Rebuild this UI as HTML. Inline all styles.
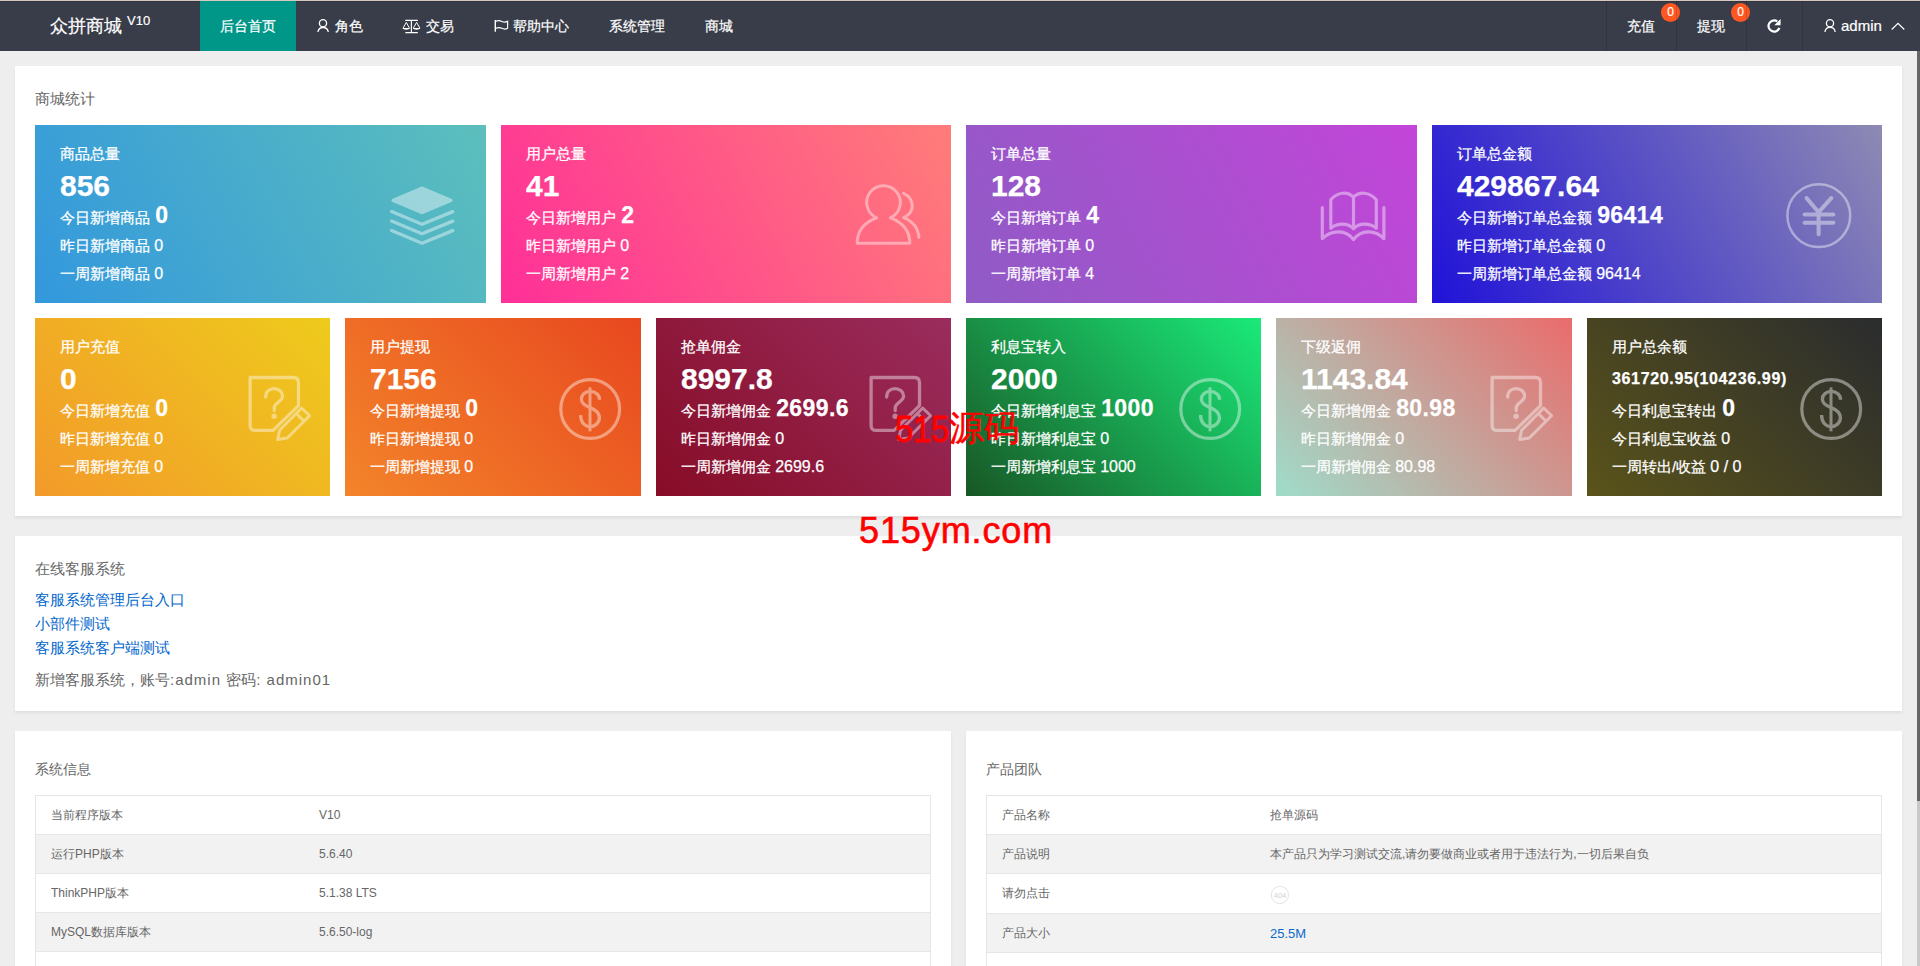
<!DOCTYPE html>
<html><head><meta charset="utf-8"><title>众拼商城</title>
<style>
*{margin:0;padding:0;box-sizing:border-box}
html,body{width:1920px;height:966px;overflow:hidden}
body{background:#eeeeee;font-family:"Liberation Sans",sans-serif;position:relative;color:#666}
.topline{position:absolute;left:0;top:0;width:1920px;height:1px;background:#d8c8c0}
.hdr{position:absolute;left:0;top:1px;width:1920px;height:50px;background:#393d49;color:#fff;box-shadow:inset 0 1px 0 #30343f;-webkit-text-stroke:.2px #fff}
.hdr .logo{position:absolute;left:50px;top:0;line-height:50px;font-size:18px;color:#fff}
.hdr .logo sup{font-size:13px;position:absolute;left:77px;top:-5px;line-height:50px}
.nav{position:absolute;top:0;height:50px;line-height:50px;font-size:14px;color:#fff;white-space:nowrap}
.nav svg{position:absolute}
.act{background:#009688}
.sep{position:absolute;top:0;width:1px;height:50px;background:rgba(0,0,0,.14)}
.badge{position:absolute;width:19px;height:19px;border-radius:10px;background:#ff5722;color:#fff;font-size:12px;line-height:19px;text-align:center}
.card{position:absolute;background:#fff;box-shadow:0 2px 3px rgba(0,0,0,.07)}
.ctitle{position:absolute;left:20px;font-size:15px;color:#666;white-space:nowrap}
.sc{position:absolute;height:178px;color:#fff;overflow:hidden;-webkit-text-stroke:.25px #fff}
.sc .t{position:absolute;left:25px;white-space:nowrap}
.sc .lab{top:19px;font-size:15px;line-height:20px}
.sc .big{top:45px;font-size:30px;line-height:32px;font-weight:bold}
.sc .big.sm{font-size:16px;top:51px;line-height:20px;letter-spacing:.65px}
.sc .l2{top:80px;font-size:15px;line-height:20px}
.sc .l2 b{font-size:23px;margin-left:1px;letter-spacing:.4px}
.sc .l3{top:111px;font-size:15px;line-height:20px}
.sc .l4{top:139px;font-size:15px;line-height:20px}
.sc .d{font-size:16px}
.ico{position:absolute;opacity:.42}
.links a{position:absolute;left:20px;font-size:15px;color:#0066cc;text-decoration:none;white-space:nowrap}
.tbl{position:absolute;left:20px;border-left:1px solid #e6e6e6;border-right:1px solid #e6e6e6}
.tbl .r{height:39px;border-top:1px solid #e6e6e6;position:relative;font-size:12px;color:#666;line-height:38px}
.tbl .r.g{background:#f2f2f2}
.tbl .r span{position:absolute;white-space:nowrap}
.la{font-style:normal;letter-spacing:1px}
.wm1{position:absolute;left:895px;top:408px;font-size:35px;color:#ff0000;line-height:40px;white-space:nowrap;-webkit-text-stroke:.5px #f00}
.wm1 .dg{display:inline-block;font-size:33px;transform:translateY(1.5px) scaleY(1.13);transform-origin:0 28px;-webkit-text-stroke:.7px #f00;letter-spacing:-.4px}
.wm2{position:absolute;left:859px;top:510px;font-size:36px;color:#ff0000;line-height:42px;white-space:nowrap;letter-spacing:.9px;-webkit-text-stroke:.6px #f00}
.sb{position:absolute;left:1917px;top:51px;width:3px;height:915px;background:#c8c8c8}
.sb i{position:absolute;left:0;top:0;width:3px;height:750px;background:#666}
</style></head><body>
<div class="topline"></div>
<div class="hdr">
 <div class="logo">众拼商城<sup>V10</sup></div>
 <div class="nav act" style="left:200px;width:96px;text-align:center">后台首页</div>
 <svg style="position:absolute;left:315px;top:16px" width="16" height="18" viewBox="315 17 16 18"><circle cx="323" cy="23.3" r="3.6" fill="none" stroke="#fff" stroke-width="1.3"/><path d="M317.9 32 A5.3 5.6 0 0 1 328.3 32" fill="none" stroke="#fff" stroke-width="1.3"/></svg>
 <div class="nav" style="left:335px">角色</div>
 <svg style="position:absolute;left:401px;top:16px" width="22" height="18" viewBox="401 17 22 18"><path d="M405.3 20.4 H417.8 M411.4 20.4 V32.4 M405.3 32.6 H417.8" fill="none" stroke="#fff" stroke-width="1.2"/><path d="M403 28.2 L406.3 22.4 L409.5 28.2 M413.3 28.2 L416.6 22.4 L419.9 28.2" fill="none" stroke="#fff" stroke-width="1"/><path d="M402.6 28 H409.9 C409.6 30.3 402.9 30.3 402.6 28 Z M412.9 28 H420.2 C419.9 30.3 413.2 30.3 412.9 28 Z" fill="#fff"/></svg>
 <div class="nav" style="left:426px">交易</div>
 <svg style="position:absolute;left:492px;top:17px" width="18" height="17" viewBox="492 18 18 17"><path d="M495.3 20 V31.8" fill="none" stroke="#fff" stroke-width="1.4"/><path d="M495.8 21.3 Q498.8 19.9 501.9 21.5 Q504.9 23 507.6 21.3 V28.2 Q504.9 29.8 501.9 28.3 Q498.8 26.8 495.8 28.2" fill="none" stroke="#fff" stroke-width="1.2"/></svg>
 <div class="nav" style="left:513px">帮助中心</div>
 <div class="nav" style="left:609px">系统管理</div>
 <div class="nav" style="left:705px">商城</div>
 <div class="nav" style="left:1627px">充值</div>
 <div class="badge" style="left:1661px;top:2px">0</div>
 <div class="nav" style="left:1697px">提现</div>
 <div class="badge" style="left:1731px;top:2px">0</div>
 <div class="sep" style="left:1606px"></div>
 <div class="sep" style="left:1676px"></div>
 <div class="sep" style="left:1746px"></div>
 <div class="sep" style="left:1802px"></div>
 <svg style="position:absolute;left:1765px;top:17px" width="18" height="17" viewBox="1765 18 18 17"><path d="M1779.4 27.9 A5.6 5.6 0 1 1 1777.3 21.4" fill="none" stroke="#fff" stroke-width="2.2"/><path d="M1774.3 25.3 L1780.6 25.3 L1780.6 19 Z" fill="#fff"/></svg>
 <svg style="position:absolute;left:1822px;top:16px" width="16" height="18" viewBox="1822 17 16 18"><circle cx="1830" cy="23.2" r="3.6" fill="none" stroke="#fff" stroke-width="1.3"/><path d="M1824.9 32 A5.2 5.4 0 0 1 1835.2 32" fill="none" stroke="#fff" stroke-width="1.3"/></svg>
 <div class="nav" style="left:1841px;font-size:15px">admin</div>
 <svg style="position:absolute;left:1890px;top:20px" width="16" height="10" viewBox="1890 20 16 10"><path d="M1891.7 28.5 L1898 22.3 L1904.3 28.5" fill="none" stroke="#fff" stroke-width="1.2"/></svg>
</div>
<div class="card" style="left:15px;top:66px;width:1887px;height:450px">
<div class="ctitle" style="top:23px;line-height:20px">商城统计</div>
</div>
<div class="sc" style="left:35px;top:125px;width:451px;background:linear-gradient(62deg,#3398dd,#5cbfbc)">
<div class="t lab">商品总量</div>
<div class="t big">856</div>
<div class="t l2">今日新增商品 <b>0</b></div>
<div class="t l3">昨日新增商品 <span class="d">0</span></div>
<div class="t l4">一周新增商品 <span class="d">0</span></div>
<svg class="ico" style="left:353px;top:59px" width="70" height="62" viewBox="388 184 70 62">
<path d="M422 187.3 L450.5 199.2 Q453.2 200.4 450.5 201.6 L422 213.5 L393.5 201.6 Q390.8 200.4 393.5 199.2 Z" fill="#fff" stroke="#fff" stroke-width="1.6" stroke-linejoin="round"/>
<polyline points="391.6,211.6 422,224.3 452.8,211.6" fill="none" stroke="#fff" stroke-linecap="round" stroke-linejoin="round" stroke-width="3.3"/>
<polyline points="391.6,221.1 422,233.8 452.8,221.1" fill="none" stroke="#fff" stroke-linecap="round" stroke-linejoin="round" stroke-width="3.3"/>
<polyline points="391.6,230.6 422,243.3 452.8,230.6" fill="none" stroke="#fff" stroke-linecap="round" stroke-linejoin="round" stroke-width="3.3"/>
</svg>
</div>
<div class="sc" style="left:501px;top:125px;width:450px;background:linear-gradient(62deg,#ff2f98,#ff7d79)">
<div class="t lab">用户总量</div>
<div class="t big">41</div>
<div class="t l2">今日新增用户 <b>2</b></div>
<div class="t l3">昨日新增用户 <span class="d">0</span></div>
<div class="t l4">一周新增用户 <span class="d">2</span></div>
<svg class="ico" style="left:352px;top:57px" width="70" height="66" viewBox="853 182 70 66">
<path d="M876.6 217.8 A16.8 16.8 0 1 1 890.4 217.8 C902.5 222.3 909.8 231 909.8 243.2 L857.2 243.2 C857.2 231 864.5 222.3 876.6 217.8 Z" fill="none" stroke="#fff" stroke-linecap="round" stroke-linejoin="round" stroke-width="3"/>
<path d="M903.6 193.4 C909.5 196 912.3 201.5 912.3 206 C912.3 210.5 909.5 214.8 903.8 217.6 C913 221.5 918.3 229 918.9 237.3" fill="none" stroke="#fff" stroke-linecap="round" stroke-linejoin="round" stroke-width="3"/>
</svg>
</div>
<div class="sc" style="left:966px;top:125px;width:451px;background:linear-gradient(62deg,#8f5bc5,#c345d9)">
<div class="t lab">订单总量</div>
<div class="t big">128</div>
<div class="t l2">今日新增订单 <b>4</b></div>
<div class="t l3">昨日新增订单 <span class="d">0</span></div>
<div class="t l4">一周新增订单 <span class="d">4</span></div>
<svg class="ico" style="left:352px;top:63px" width="70" height="56" viewBox="1318 188 70 56">
<path d="M1322.3 207.6 L1322.3 238.6 C1332 229.5 1346 229.5 1353.5 239.6 C1361 229.5 1375 229.5 1383.9 238.6 L1383.9 207.6" fill="none" stroke="#fff" stroke-linecap="round" stroke-linejoin="round" stroke-width="3.2"/>
<path d="M1330.8 228.2 L1330.8 199.8 C1337.5 192 1348 191 1353.5 197.3 C1359 191 1369.5 192 1376.3 199.8 L1376.3 228.2 C1370 222.6 1359 222.6 1353.5 228.6 C1348 222.6 1337 222.6 1330.8 228.2 Z" fill="none" stroke="#fff" stroke-linecap="round" stroke-linejoin="round" stroke-width="3.2"/>
<path d="M1353.5 197.3 L1353.5 228.6" fill="none" stroke="#fff" stroke-linecap="round" stroke-linejoin="round" stroke-width="3.2"/>
</svg>
</div>
<div class="sc" style="left:1432px;top:125px;width:450px;background:linear-gradient(62deg,#2012d8,#8e8ab3)">
<div class="t lab">订单总金额</div>
<div class="t big">429867.64</div>
<div class="t l2">今日新增订单总金额 <b>96414</b></div>
<div class="t l3">昨日新增订单总金额 <span class="d">0</span></div>
<div class="t l4">一周新增订单总金额 <span class="d">96414</span></div>
<svg class="ico" style="left:352px;top:56px" width="70" height="70" viewBox="1784 181 70 70">
<circle cx="1818.8" cy="215.6" r="31.4" fill="none" stroke="#fff" stroke-linecap="round" stroke-linejoin="round" stroke-width="2.5"/>
<path d="M1806.6 198.1 L1818.6 212.2 L1831.3 198.1 M1804.5 214.4 L1833.4 214.4 M1804.5 222.7 L1833.4 222.7 M1818.6 212.2 L1818.6 234.2" fill="none" stroke="#fff" stroke-linecap="round" stroke-linejoin="round" stroke-width="4"/>
</svg>
</div>
<div class="sc" style="left:35px;top:318px;width:295px;background:linear-gradient(45deg,#f39a2a,#eecb1c)">
<div class="t lab">用户充值</div>
<div class="t big">0</div>
<div class="t l2">今日新增充值 <b>0</b></div>
<div class="t l3">昨日新增充值 <span class="d">0</span></div>
<div class="t l4">一周新增充值 <span class="d">0</span></div>
<svg class="ico" style="left:210px;top:54px" width="68" height="70" viewBox="245 372 68 70">
<path d="M273.1 430.4 L255.1 430.4 Q250.1 430.4 250.1 425.4 L250.1 377.5 L293.5 377.5 Q298.5 377.5 298.5 382.5 L298.5 405.6 Z" fill="none" stroke="#fff" stroke-linecap="round" stroke-linejoin="round" stroke-width="3.3"/>
<path d="M265.7 397 C265.7 391.6 269.5 388.6 274 388.6 C278.8 388.6 282.6 391.8 282.6 396 C282.6 401.5 274.2 403 274.2 408 L274.2 410.5" fill="none" stroke="#fff" stroke-linecap="round" stroke-linejoin="round" stroke-width="3.3"/>
<circle cx="274.1" cy="416.3" r="2.7" fill="#fff"/>
<path d="M301.7 408 L309.6 415.7 L287.2 438 L277.6 439.6 L279.6 430.2 Z M296.4 413.6 L304.1 421.3" fill="none" stroke="#fff" stroke-linejoin="round" stroke-width="3"/>
</svg>
</div>
<div class="sc" style="left:345px;top:318px;width:296px;background:linear-gradient(45deg,#f3842a,#e8481f)">
<div class="t lab">用户提现</div>
<div class="t big">7156</div>
<div class="t l2">今日新增提现 <b>0</b></div>
<div class="t l3">昨日新增提现 <span class="d">0</span></div>
<div class="t l4">一周新增提现 <span class="d">0</span></div>
<svg class="ico" style="left:211px;top:57px" width="68" height="68" viewBox="556 375 68 68">
<circle cx="590.2" cy="409" r="29.4" fill="none" stroke="#fff" stroke-linecap="round" stroke-linejoin="round" stroke-width="3.2"/>
<path d="M590 387.4 L590 431.3" fill="none" stroke="#fff" stroke-linejoin="round" stroke-width="3"/>
<path d="M599.6 399.7 C599.6 395 595.5 391.4 590.2 391.4 C584.8 391.4 581.4 395 581.4 399.2 C581.4 404 586 406 590.2 407.6 C595.3 409.6 599.4 412.2 599.4 417.6 C599.4 422.8 595.3 426.6 590.2 426.6 C584.6 426.6 580.6 422.2 580.6 415" fill="none" stroke="#fff" stroke-linejoin="round" stroke-width="3.3"/>
</svg>
</div>
<div class="sc" style="left:656px;top:318px;width:295px;background:linear-gradient(45deg,#870c26,#9a2d5e)">
<div class="t lab">抢单佣金</div>
<div class="t big">8997.8</div>
<div class="t l2">今日新增佣金 <b>2699.6</b></div>
<div class="t l3">昨日新增佣金 <span class="d">0</span></div>
<div class="t l4">一周新增佣金 <span class="d">2699.6</span></div>
<svg class="ico" style="left:210px;top:54px" width="68" height="70" viewBox="245 372 68 70">
<path d="M273.1 430.4 L255.1 430.4 Q250.1 430.4 250.1 425.4 L250.1 377.5 L293.5 377.5 Q298.5 377.5 298.5 382.5 L298.5 405.6 Z" fill="none" stroke="#fff" stroke-linecap="round" stroke-linejoin="round" stroke-width="3.3"/>
<path d="M265.7 397 C265.7 391.6 269.5 388.6 274 388.6 C278.8 388.6 282.6 391.8 282.6 396 C282.6 401.5 274.2 403 274.2 408 L274.2 410.5" fill="none" stroke="#fff" stroke-linecap="round" stroke-linejoin="round" stroke-width="3.3"/>
<circle cx="274.1" cy="416.3" r="2.7" fill="#fff"/>
<path d="M301.7 408 L309.6 415.7 L287.2 438 L277.6 439.6 L279.6 430.2 Z M296.4 413.6 L304.1 421.3" fill="none" stroke="#fff" stroke-linejoin="round" stroke-width="3"/>
</svg>
</div>
<div class="sc" style="left:966px;top:318px;width:295px;background:linear-gradient(45deg,#185725,#1aea79)">
<div class="t lab">利息宝转入</div>
<div class="t big">2000</div>
<div class="t l2">今日新增利息宝 <b>1000</b></div>
<div class="t l3">昨日新增利息宝 <span class="d">0</span></div>
<div class="t l4">一周新增利息宝 <span class="d">1000</span></div>
<svg class="ico" style="left:210px;top:57px" width="68" height="68" viewBox="556 375 68 68">
<circle cx="590.2" cy="409" r="29.4" fill="none" stroke="#fff" stroke-linecap="round" stroke-linejoin="round" stroke-width="3.2"/>
<path d="M590 387.4 L590 431.3" fill="none" stroke="#fff" stroke-linejoin="round" stroke-width="3"/>
<path d="M599.6 399.7 C599.6 395 595.5 391.4 590.2 391.4 C584.8 391.4 581.4 395 581.4 399.2 C581.4 404 586 406 590.2 407.6 C595.3 409.6 599.4 412.2 599.4 417.6 C599.4 422.8 595.3 426.6 590.2 426.6 C584.6 426.6 580.6 422.2 580.6 415" fill="none" stroke="#fff" stroke-linejoin="round" stroke-width="3.3"/>
</svg>
</div>
<div class="sc" style="left:1276px;top:318px;width:296px;background:linear-gradient(45deg,#9fdcca,#ea6c6c)">
<div class="t lab">下级返佣</div>
<div class="t big">1143.84</div>
<div class="t l2">今日新增佣金 <b>80.98</b></div>
<div class="t l3">昨日新增佣金 <span class="d">0</span></div>
<div class="t l4">一周新增佣金 <span class="d">80.98</span></div>
<svg class="ico" style="left:211px;top:54px" width="68" height="70" viewBox="245 372 68 70">
<path d="M273.1 430.4 L255.1 430.4 Q250.1 430.4 250.1 425.4 L250.1 377.5 L293.5 377.5 Q298.5 377.5 298.5 382.5 L298.5 405.6 Z" fill="none" stroke="#fff" stroke-linecap="round" stroke-linejoin="round" stroke-width="3.3"/>
<path d="M265.7 397 C265.7 391.6 269.5 388.6 274 388.6 C278.8 388.6 282.6 391.8 282.6 396 C282.6 401.5 274.2 403 274.2 408 L274.2 410.5" fill="none" stroke="#fff" stroke-linecap="round" stroke-linejoin="round" stroke-width="3.3"/>
<circle cx="274.1" cy="416.3" r="2.7" fill="#fff"/>
<path d="M301.7 408 L309.6 415.7 L287.2 438 L277.6 439.6 L279.6 430.2 Z M296.4 413.6 L304.1 421.3" fill="none" stroke="#fff" stroke-linejoin="round" stroke-width="3"/>
</svg>
</div>
<div class="sc" style="left:1587px;top:318px;width:295px;background:linear-gradient(45deg,#5a531a,#2a2c2e)">
<div class="t lab">用户总余额</div>
<div class="t big sm">361720.95(104236.99)</div>
<div class="t l2">今日利息宝转出 <b>0</b></div>
<div class="t l3">今日利息宝收益 <span class="d">0</span></div>
<div class="t l4">一周转出/收益 <span class="d">0 / 0</span></div>
<svg class="ico" style="left:210px;top:57px" width="68" height="68" viewBox="556 375 68 68">
<circle cx="590.2" cy="409" r="29.4" fill="none" stroke="#fff" stroke-linecap="round" stroke-linejoin="round" stroke-width="3.2"/>
<path d="M590 387.4 L590 431.3" fill="none" stroke="#fff" stroke-linejoin="round" stroke-width="3"/>
<path d="M599.6 399.7 C599.6 395 595.5 391.4 590.2 391.4 C584.8 391.4 581.4 395 581.4 399.2 C581.4 404 586 406 590.2 407.6 C595.3 409.6 599.4 412.2 599.4 417.6 C599.4 422.8 595.3 426.6 590.2 426.6 C584.6 426.6 580.6 422.2 580.6 415" fill="none" stroke="#fff" stroke-linejoin="round" stroke-width="3.3"/>
</svg>
</div>
<div class="card links" style="left:15px;top:536px;width:1887px;height:175px">
<div class="ctitle" style="top:23px;line-height:20px">在线客服系统</div>
<a style="top:54px;line-height:20px">客服系统管理后台入口</a>
<a style="top:78px;line-height:20px">小部件测试</a>
<a style="top:102px;line-height:20px">客服系统客户端测试</a>
<div class="ctitle" style="top:134px;line-height:20px;font-size:15px">新增客服系统，账号<i class="la">:admin </i>密码<i class="la">: admin01</i></div>
</div>
<div class="card" style="left:15px;top:731px;width:936px;height:300px">
<div class="ctitle" style="top:28px;line-height:20px;font-size:14px">系统信息</div>
<div class="tbl" style="top:64px;width:896px"><div class="r"><span style="left:15px">当前程序版本</span><span style="left:283px">V10</span></div><div class="r g"><span style="left:15px">运行PHP版本</span><span style="left:283px">5.6.40</span></div><div class="r"><span style="left:15px">ThinkPHP版本</span><span style="left:283px">5.1.38 LTS</span></div><div class="r g"><span style="left:15px">MySQL数据库版本</span><span style="left:283px">5.6.50-log</span></div><div class="r"><span style="left:15px"></span><span style="left:283px"></span></div></div>
</div>
<div class="card" style="left:966px;top:731px;width:936px;height:300px">
<div class="ctitle" style="top:28px;line-height:20px;font-size:14px">产品团队</div>
<div class="tbl" style="top:64px;width:896px"><div class="r"><span style="left:15px">产品名称</span><span style="left:283px">抢单源码</span></div><div class="r g"><span style="left:15px">产品说明</span><span style="left:283px">本产品只为学习测试交流,请勿要做商业或者用于违法行为,一切后果自负</span></div><div class="r" style="height:40px;line-height:39px"><span style="left:15px">请勿点击</span><span style="left:283px"><svg width="20" height="20" viewBox="0 0 20 20" style="position:absolute;left:0;top:11px"><circle cx="9.9" cy="10" r="8.6" fill="none" stroke="#e4e4e4" stroke-width="1"/><text x="10" y="12.6" font-size="7.5" text-anchor="middle" fill="#d0d0d0" font-family="Liberation Sans">404</text></svg></span></div><div class="r g"><span style="left:15px">产品大小</span><span style="left:283px"><span style="position:static;color:#0a6acc;font-size:13px;position:relative;top:1px">25.5M</span></span></div><div class="r"><span style="left:15px"></span><span style="left:283px"></span></div></div>
</div>
<div class="wm1"><span class="dg">515</span>源码</div>
<div class="wm2">515ym.com</div>
<div class="sb"><i></i></div>
</body></html>
